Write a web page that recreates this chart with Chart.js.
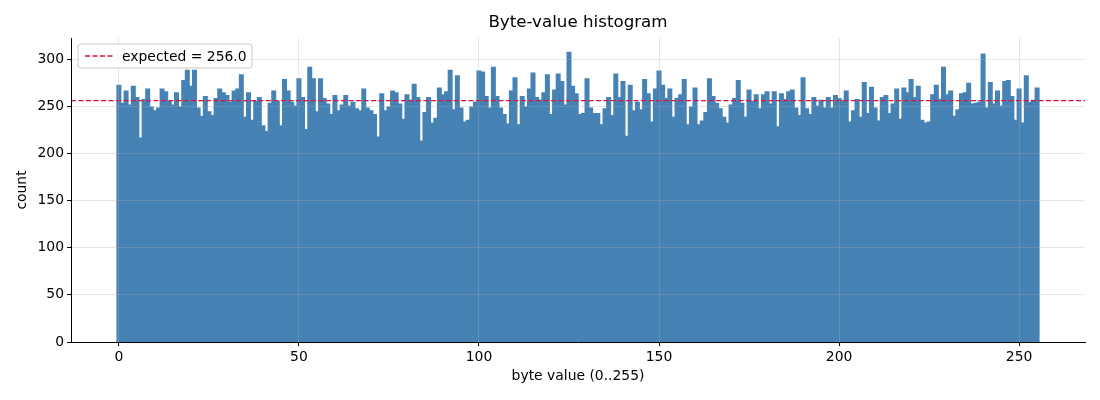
<!DOCTYPE html>
<html>
<head>
<meta charset="utf-8">
<script src="https://cdn.jsdelivr.net/npm/chart.js@4/dist/chart.umd.min.js"></script>
<style>
  body { margin: 0; background: #fff; }
  #wrap { width: 1100px; height: 400px; }
</style>
</head>
<body>
<div id="wrap"><canvas id="hist" width="1100" height="400"></canvas></div>
<script>
// counts per byte value 0..255
byteCounts = [
  272, 253, 266, 251, 271, 259, 216, 257, 268, 249, 245, 248, 268, 265, 255, 251,
  264, 249, 277, 288, 271, 288, 248, 239, 260, 244, 240, 258, 268, 264, 261, 254,
  266, 268, 283, 238, 264, 235, 255, 259, 229, 223, 253, 266, 255, 229, 278, 266,
  254, 250, 279, 259, 225, 291, 279, 244, 279, 258, 252, 241, 261, 245, 251, 261,
  250, 254, 247, 245, 268, 248, 245, 241, 217, 263, 245, 249, 266, 264, 252, 236,
  262, 256, 273, 259, 213, 243, 259, 232, 237, 269, 262, 265, 288, 246, 282, 248,
  233, 235, 249, 254, 287, 286, 260, 248, 291, 260, 248, 241, 231, 266, 280, 230,
  260, 249, 268, 285, 259, 256, 264, 283, 241, 267, 284, 276, 251, 307, 271, 263,
  241, 242, 279, 248, 242, 242, 230, 247, 259, 240, 284, 259, 276, 218, 272, 245,
  254, 246, 278, 263, 233, 268, 287, 272, 258, 268, 238, 258, 262, 278, 230, 249,
  269, 230, 234, 243, 279, 260, 253, 247, 238, 232, 251, 258, 277, 253, 238, 267,
  255, 262, 247, 262, 265, 252, 265, 228, 263, 257, 265, 267, 248, 240, 280, 247,
  241, 259, 250, 256, 248, 259, 248, 261, 258, 256, 266, 233, 245, 257, 238, 275,
  242, 270, 248, 234, 259, 261, 242, 252, 268, 236, 269, 264, 278, 259, 271, 235,
  232, 233, 262, 272, 257, 291, 262, 266, 239, 246, 263, 264, 274, 252, 253, 254,
  305, 248, 275, 252, 266, 250, 276, 277, 260, 235, 268, 232, 282, 254, 256, 269,
];
byteValues = byteCounts.map((c, i) => i);
expectedCount = 256.0;
xTicks = [0, 50, 100, 150, 200, 250];
yTicks = [0, 50, 100, 150, 200, 250, 300];
xRange = [-13.3, 268.3];
yRange = [0, 322.3];

const fontFamily = '"DejaVu Sans", sans-serif';
const expectedColor = '#dc143c';
const gridColor = 'rgba(176,176,176,0.3)';

// title centred over the plot area and a matplotlib-like legend box
const decorations = {
  id: 'decorations',
  afterDraw(chart) {
    const { ctx, chartArea } = chart;
    ctx.save();
    ctx.fillStyle = '#000';
    ctx.font = '16.7px ' + fontFamily;
    ctx.textAlign = 'center';
    ctx.textBaseline = 'middle';
    ctx.fillText('Byte-value histogram', (chartArea.left + chartArea.right) / 2, 23);

    const bx = chartArea.left + 7, by = chartArea.top + 6, bw = 174, bh = 24;
    ctx.globalAlpha = 0.8;
    ctx.fillStyle = '#fff';
    ctx.beginPath();
    ctx.roundRect(bx, by, bw, bh, 3);
    ctx.fill();
    ctx.globalAlpha = 1;
    ctx.strokeStyle = '#cccccc';
    ctx.lineWidth = 1;
    ctx.stroke();

    ctx.strokeStyle = expectedColor;
    ctx.lineWidth = 1.3;
    ctx.setLineDash([5, 2.5]);
    ctx.beginPath();
    ctx.moveTo(bx + 7, by + bh / 2);
    ctx.lineTo(bx + 35, by + bh / 2);
    ctx.stroke();
    ctx.setLineDash([]);

    ctx.fillStyle = '#000';
    ctx.font = '13.9px ' + fontFamily;
    ctx.textAlign = 'left';
    ctx.fillText('expected = ' + expectedCount.toFixed(1), bx + 44, by + bh / 2 + 1);
    ctx.restore();
  },
};

var ctx = document.getElementById('hist').getContext('2d');

new Chart(ctx, {
  type: 'bar',
  data: {
    datasets: [
      {
        label: 'count',
        data: byteCounts.map((c, i) => ({ x: byteValues[i], y: c })),
        backgroundColor: '#4682b4',
        borderWidth: 0,
        inflateAmount: 0.7,
        barPercentage: 1.0,
        categoryPercentage: 1.0,
        order: 2,
      },
      {
        type: 'line',
        label: 'expected = 256.0',
        data: [
          { x: xRange[0], y: expectedCount },
          { x: xRange[1], y: expectedCount },
        ],
        borderColor: expectedColor,
        borderWidth: 1.3,
        borderDash: [5, 2.5],
        pointRadius: 0,
        fill: false,
        order: 1,
      },
    ],
  },
  options: {
    responsive: false,
    animation: false,
    devicePixelRatio: 1,
    layout: {
      padding: { left: 0, right: 15, top: 38, bottom: 0 },
    },
    plugins: {
      legend: { display: false },
      title: { display: false },
      tooltip: { enabled: false },
    },
    scales: {
      x: {
        type: 'linear',
        min: xRange[0],
        max: xRange[1],
        offset: false,
        afterBuildTicks: (scale) => {
          scale.ticks = xTicks.map((v) => ({ value: v }));
        },
        afterFit: (scale) => {
          scale.height = 58;
        },
        grid: {
          z: 1,
          offset: false,
          color: gridColor,
          lineWidth: 1,
          tickColor: '#000',
          tickLength: 4,
        },
        border: { display: true, color: '#000', width: 1, z: 2 },
        ticks: {
          color: '#000',
          padding: 3,
          font: { family: fontFamily, size: 13.9 },
        },
        title: {
          display: true,
          text: 'byte value (0..255)',
          color: '#000',
          padding: { bottom: 15 },
          font: { family: fontFamily, size: 13.9 },
        },
      },
      y: {
        min: yRange[0],
        max: yRange[1],
        afterBuildTicks: (scale) => {
          scale.ticks = yTicks.map((v) => ({ value: v }));
        },
        afterFit: (scale) => {
          scale.width = 71;
        },
        grid: {
          z: 1,
          color: gridColor,
          lineWidth: 1,
          tickColor: '#000',
          tickLength: 4,
        },
        border: { display: true, color: '#000', width: 1, z: 2 },
        ticks: {
          color: '#000',
          padding: 3,
          font: { family: fontFamily, size: 13.9 },
        },
        title: {
          display: true,
          text: 'count',
          color: '#000',
          padding: { top: 14 },
          font: { family: fontFamily, size: 13.9 },
        },
      },
    },
  },
  plugins: [decorations],
});
</script>
</body>
</html>
